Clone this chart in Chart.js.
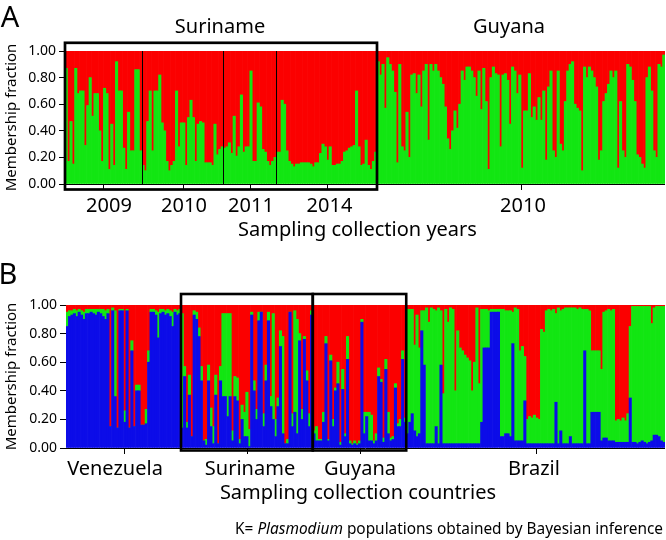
<!DOCTYPE html>
<html>
<head>
<meta charset="utf-8">
<script src="https://cdn.jsdelivr.net/npm/chart.js@4.4.1/dist/chart.umd.min.js"></script>
<style>
  body { margin: 0; background: #fff; }
  #wrap { position: relative; width: 666px; height: 540px; overflow: hidden; font-family: "Noto Sans", sans-serif; color: #000; }
  canvas { position: absolute; left: 0; }
  .lbl { position: absolute; white-space: nowrap; line-height: 1; transform: translate(-50%, -50%); }
</style>
</head>
<body>
<div id="wrap">
  <canvas id="chartA" width="666" height="250" style="top:0"></canvas>
  <canvas id="chartB" width="666" height="290" style="top:250px"></canvas>
</div>
<script>
// y axis ticks, shared by both panels
const yTickValues = [0, 0.2, 0.4, 0.6, 0.8, 1.0];

// Panel A: green membership per sample, grouped by collection year (red = rest)
const yearsA = ['2009', '2010', '2011', '2014', '2010'];
const green2009 = [0.87,0.17,0.47,0.15,0.87,0.68,0.70,0.70,0.29,0.59,0.80,0.51,0.68,0.68,0.40,0.17,
  0.72,0.68,0.11,0.45,0.14,0.92,0.70,0.70,0.27,0.11,0.54,0.25,0.25,0.86,0.86,0.25];
const green2010 = [0.14,0.10,0.47,0.70,0.25,0.70,0.70,0.82,0.46,0.40,0.17,0.10,0.14,0.17,0.70,0.28,0.46,
  0.46,0.14,0.50,0.63,0.50,0.17,0.45,0.47,0.46,0.16,0.16,0.16,0.14,0.45,0.22,0.26,0.28];
const green2011 = [0.27,0.28,0.31,0.23,0.51,0.21,0.28,0.67,0.24,0.28,0.28,0.85,0.17,0.17,0.61,0.58,
  0.26,0.24,0.17,0.14,0.17,0.20];
const green2014 = [0.24,0.24,0.63,0.60,0.25,0.17,0.15,0.13,0.15,0.15,0.16,0.16,0.16,0.16,0.15,0.13,
  0.16,0.16,0.23,0.30,0.28,0.18,0.28,0.14,0.14,0.15,0.15,0.17,0.24,0.25,0.27,0.28,0.29,0.70,0.28,
  0.14,0.15,0.33,0.14,0.11,0.17,0.24];
const greenGuyanaA = [0.92,0.82,0.90,0.57,0.95,0.90,0.85,0.69,0.16,0.90,0.28,0.25,0.54,0.20,0.82,
  0.83,0.68,0.82,0.58,0.85,0.90,0.33,0.90,0.85,0.90,0.85,0.80,0.75,0.58,0.34,0.26,0.40,0.55,0.42,
  0.60,0.85,0.78,0.88,0.88,0.85,0.80,0.66,0.85,0.56,0.87,0.62,0.11,0.80,0.88,0.83,0.82,0.28,0.82,
  0.83,0.78,0.45,0.88,0.85,0.68,
  0.82,0.12,0.55,0.55,0.83,0.50,0.58,0.48,0.65,0.48,0.70,0.18,0.73,0.85,0.25,0.20,0.85,0.30,0.25,
  0.62,0.85,0.90,0.92,0.60,0.57,0.55,0.10,0.88,0.80,0.88,0.85,0.80,0.73,0.18,0.25,0.62,0.68,0.75,
  0.85,0.80,0.85,0.12,0.62,0.25,0.20,0.90,0.88,0.78,0.62,0.22,0.20,0.15,0.12,0.80,0.88,0.70,0.25,
  0.20,0.90,0.88,0.97];

// Panel B: blue and green membership per sample, grouped by country (red = rest)
const countriesB = ['Venezuela', 'Suriname', 'Guyana', 'Brazil'];
const blueVenezuela = [0.85,0.92,0.93,0.94,0.92,0.95,0.93,0.90,0.94,0.94,0.95,0.94,0.93,0.95,0.94,
  0.92,0.90,0.94,0.15,0.96,0.36,0.14,0.96,0.96,0.18,0.96,0.14,0.68,0.15,0.40,0.40,0.16,0.16,0.17,
  0.60,0.95,0.95,0.93,0.77,0.94,0.95,0.93,0.94,0.92,0.85,0.95,0.93,0.94];
const greenVenezuela = [0.10,0.04,0.03,0.03,0.04,0.02,0.03,0.05,0.03,0.03,0.02,0.03,0.04,0.02,0.03,
  0.05,0.06,0.03,0.00,0.02,0.60,0.00,0.01,0.01,0.08,0.01,0.00,0.07,0.00,0.04,0.04,0.00,0.00,0.10,
  0.08,0.02,0.02,0.03,0.18,0.03,0.02,0.03,0.03,0.04,0.10,0.02,0.03,0.03];
const blueSuriname = [0.14,0.50,0.14,0.37,0.08,0.93,0.90,0.78,0.47,0.05,0.02,0.47,0.15,0.03,0.37,
  0.03,0.47,0.36,0.36,0.22,0.36,0.05,0.36,0.33,0.03,0.20,0.08,0.08,0.01,0.93,0.40,0.20,0.89,0.95,
  0.15,0.47,0.89,0.29,0.20,0.08,0.29,0.71,0.10,0.03,0.03,0.95,0.15,0.25,0.10,0.75,0.20,0.76,0.47,
  0.15,0.93];
const greenSuriname = [0.80,0.07,0.04,0.14,0.00,0.03,0.05,0.06,0.10,0.00,0.04,0.11,0.13,0.12,0.14,
  0.00,0.10,0.58,0.58,0.72,0.58,0.07,0.14,0.16,0.03,0.10,0.17,0.31,0.12,0.02,0.07,0.07,0.06,0.00,
  0.09,0.11,0.06,0.07,0.74,0.12,0.06,0.11,0.68,0.00,0.03,0.00,0.09,0.71,0.80,0.05,0.07,0.02,0.07,
  0.09,0.03];
const blueGuyana = [0.10,0.05,0.05,0.05,0.18,0.73,0.05,0.61,0.15,0.40,0.45,0.02,0.41,0.08,0.62,0.03,
  0.02,0.03,0.02,0.03,0.88,0.10,0.22,0.05,0.05,0.03,0.05,0.50,0.46,0.04,0.55,0.10,0.05,0.06,0.42,
  0.15,0.15,0.62,0.18];
const greenGuyana = [0.02,0.10,0.01,0.01,0.07,0.05,0.01,0.04,0.05,0.02,0.15,0.02,0.14,0.02,0.16,0.02,
  0.01,0.02,0.01,0.02,0.02,0.15,0.03,0.20,0.18,0.02,0.05,0.06,0.02,0.03,0.07,0.15,0.02,0.02,0.03,
  0.02,0.05,0.06,0.03];
const blueBrazil = [0.10,0.18,0.24,0.12,0.08,0.10,0.82,0.58,0.03,0.03,0.03,0.03,0.15,0.03,0.58,0.03,
  0.03,0.03,0.03,0.03,0.03,0.03,0.03,0.03,0.03,0.03,0.03,0.03,0.03,0.03,0.03,0.18,0.70,0.70,0.70,
  0.95,0.95,0.95,0.95,0.08,0.08,0.10,0.10,0.08,0.73,0.05,0.05,0.05,0.05,0.33,0.03,0.03,0.03,0.03,
  0.03,0.03,0.03,0.03,0.03,0.03,0.03,0.03,0.32,0.03,0.12,0.03,0.03,0.03,0.08,0.03,0.03,0.03,0.03,
  0.03,0.68,0.03,0.03,0.25,0.25,0.25,0.25,0.05,0.07,0.07,0.05,0.05,0.05,0.04,0.04,0.04,0.04,0.04,
  0.04,0.35,0.04,0.04,0.03,0.04,0.05,0.04,0.03,0.04,0.05,0.09,0.09,0.08,0.05,0.04];
const greenBrazil = [0.87,0.79,0.73,0.60,0.85,0.60,0.14,0.38,0.95,0.85,0.95,0.94,0.81,0.95,0.38,0.35,
  0.94,0.85,0.95,0.94,0.37,0.79,0.67,0.65,0.62,0.60,0.58,0.37,0.57,0.95,0.42,0.79,0.27,0.27,0.26,
  0.02,0.02,0.02,0.02,0.89,0.89,0.86,0.86,0.88,0.22,0.93,0.92,0.63,0.66,0.31,0.17,0.19,0.18,0.20,
  0.18,0.17,0.80,0.78,0.93,0.94,0.93,0.94,0.62,0.95,0.84,0.94,0.95,0.95,0.90,0.95,0.95,0.94,0.95,
  0.94,0.29,0.94,0.93,0.43,0.43,0.43,0.43,0.50,0.88,0.89,0.92,0.91,0.92,0.15,0.16,0.15,0.17,0.15,
  0.20,0.50,0.95,0.95,0.96,0.95,0.94,0.95,0.96,0.95,0.82,0.89,0.90,0.91,0.94,0.95];

const RED = '#fb0000', GREEN = '#12e612', BLUE = '#0c0ce8';

const groupsA = [green2009, green2010, green2011, green2014, greenGuyanaA];
const greenA = groupsA.flat();
const redA = greenA.map(g => 1 - g);
const blueB = [blueVenezuela, blueSuriname, blueGuyana, blueBrazil].flat();
const greenB = [greenVenezuela, greenSuriname, greenGuyana, greenBrazil].flat();
const redB = blueB.map((b, i) => Math.max(0, 1 - b - greenB[i]));

const starts = groups => groups.reduce((acc, g) => acc.concat(acc[acc.length - 1] + g.length), [0]);
const startsA = starts(groupsA);
const startsB = starts([blueVenezuela, blueSuriname, blueGuyana, blueBrazil]);

// left edge of bar i, through the category scale
function edgeAt(chart, i) {
  const x = chart.scales.x;
  const w = x.getPixelForValue(1) - x.getPixelForValue(0);
  return x.getPixelForValue(i) - w / 2;
}

// baseline, group ticks, year separators and black frames
const framePlugin = {
  id: 'frame',
  afterDatasetsDraw(chart, args, o) {
    const { ctx, chartArea: a } = chart;
    const st = o.starts;
    ctx.save();
    ctx.strokeStyle = '#000';
    ctx.lineWidth = 1;
    ctx.beginPath();
    ctx.moveTo(a.left, a.bottom + 0.5);
    ctx.lineTo(a.right, a.bottom + 0.5);
    ctx.stroke();
    for (let g = 0; g < st.length - 1; g++) {
      const cx = Math.round((edgeAt(chart, st[g]) + edgeAt(chart, st[g + 1])) / 2) + 0.5;
      ctx.beginPath();
      ctx.moveTo(cx, a.bottom);
      ctx.lineTo(cx, a.bottom + 6);
      ctx.stroke();
    }
    (o.separators || []).forEach(g => {
      const sx = Math.round(edgeAt(chart, st[g])) + 0.5;
      ctx.beginPath();
      ctx.moveTo(sx, a.top);
      ctx.lineTo(sx, a.bottom);
      ctx.stroke();
    });
    ctx.lineWidth = o.boxWidth;
    o.boxes.forEach(([g0, g1]) => {
      const x0 = edgeAt(chart, st[g0]), x1 = edgeAt(chart, st[g1]);
      ctx.strokeRect(x0, a.top - o.boxTop, x1 - x0, a.bottom - a.top + o.boxTop + o.boxBottom);
    });
    ctx.restore();
  }
};

function yAxis(width) {
  return {
    stacked: true, min: 0, max: 1,
    afterBuildTicks: s => { s.ticks = yTickValues.map(v => ({ value: v })); },
    afterFit: s => { s.width = width; },
    ticks: { callback: v => Number(v).toFixed(2), color: '#000', padding: 3,
      font: { family: 'Noto Sans', size: 14 } },
    grid: { drawOnChartArea: false, drawTicks: true, tickLength: 6, color: '#000' },
    border: { display: false },
    title: { display: true, text: 'Membership fraction', color: '#000', padding: { top: 3, bottom: 0 },
      font: { family: 'Noto Sans', size: 15 } }
  };
}

function barSet(label, data, color) {
  return { label, data, backgroundColor: color, borderWidth: 0, barPercentage: 1, categoryPercentage: 1 };
}

function baseOptions(padding, yWidth, frame) {
  return {
    responsive: false, animation: false, devicePixelRatio: 1,
    layout: { padding },
    plugins: { legend: { display: false }, tooltip: { enabled: false }, frame },
    scales: { x: { stacked: true, display: false }, y: yAxis(yWidth) }
  };
}

new Chart(document.getElementById('chartA'), {
  type: 'bar',
  data: {
    labels: greenA.map((_, i) => i + 1),
    datasets: [barSet('K1', greenA, GREEN), barSet('K2', redA, RED)]
  },
  options: baseOptions({ left: 0, right: 1, top: 51, bottom: 66 }, 65,
    { starts: startsA, separators: [1, 2, 3], boxes: [[0, 4]], boxWidth: 2.7, boxTop: 8.2, boxBottom: 5.5 }),
  plugins: [framePlugin]
});

new Chart(document.getElementById('chartB'), {
  type: 'bar',
  data: {
    labels: blueB.map((_, i) => i + 1),
    datasets: [barSet('K1', blueB, BLUE), barSet('K2', greenB, GREEN), barSet('K3', redB, RED)]
  },
  options: baseOptions({ left: 0, right: 1, top: 55, bottom: 92 }, 66,
    { starts: startsB, boxes: [[1, 2], [2, 3]], boxWidth: 2.6, boxTop: 11, boxBottom: 2.5 }),
  plugins: [framePlugin]
});

// text
const wrap = document.getElementById('wrap');
function label(html, x, y, size, extra) {
  const d = document.createElement('div');
  d.className = 'lbl';
  d.innerHTML = html;
  d.style.left = x + 'px';
  d.style.top = y + 'px';
  d.style.fontSize = size + 'px';
  if (extra) Object.assign(d.style, extra);
  wrap.appendChild(d);
}
label('A', 10, 15, 29);
label('Suriname', 220, 26, 20);
label('Guyana', 509, 26, 20);
[109, 184, 251, 329.5, 523].forEach((x, i) => label(yearsA[i], x, 204.5, 20));
label('Sampling collection years', 357.5, 228.5, 20);
label('B', 8, 271.5, 29);
[115, 250, 360, 534].forEach((x, i) => label(countriesB[i], x, 468, 20));
label('Sampling collection countries', 358, 492, 20);
label('K= <i>Plasmodium</i> populations obtained by Bayesian inference', 663, 528.5, 15.4,
  { transform: 'translate(-100%, -50%)' });
</script>
</body>
</html>
